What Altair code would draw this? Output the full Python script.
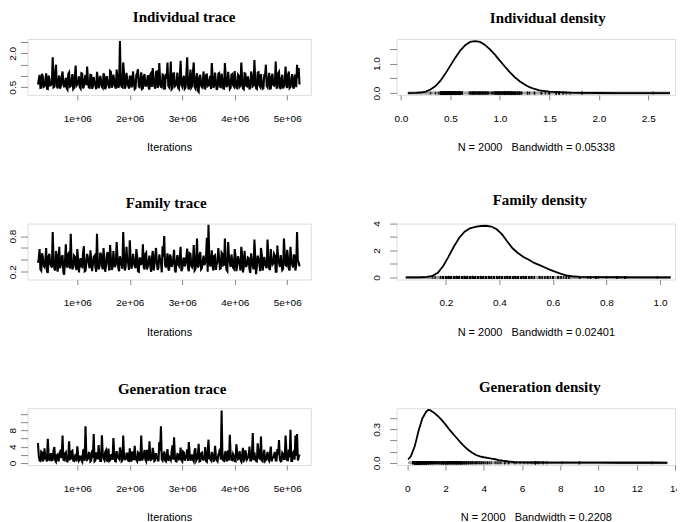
import altair as alt
import pandas as pd
import numpy as np

# ---------------- data ----------------
ITER_START = 250000
ITER_STEP = 15625   # spacing between consecutive kept samples

# samples 0, 2, 4, ...
individual_trace_a = [
    0.62, 1.05, 0.48, 0.95, 0.55, 1.12, 0.42, 0.88, 0.60, 1.83,
    0.52, 1.50, 0.45, 1.02, 0.58, 1.20, 0.50, 0.92, 0.40, 1.15,
    0.56, 1.08, 0.47, 1.46, 0.62, 0.98, 0.44, 1.10, 0.53, 1.05,
    1.42, 0.50, 1.05, 0.43, 0.96, 0.58, 1.18, 0.46, 1.00, 0.52,
    1.12, 0.41, 0.99, 0.60, 1.22, 0.48, 1.06, 0.55, 1.28, 0.47,
    2.55, 0.52, 1.60, 0.44, 1.14, 0.58, 0.97, 0.49, 1.20, 0.42,
    1.03, 1.30, 0.50, 1.16, 0.45, 1.08, 0.57, 1.04, 0.40, 1.12,
    1.35, 0.55, 1.18, 0.47, 1.57, 0.52, 1.06, 0.44, 1.10, 1.60,
    0.50, 1.64, 0.46, 1.12, 0.58, 1.15, 0.42, 1.67, 0.53, 1.01,
    0.48, 1.83, 0.40, 1.28, 0.56, 1.60, 0.45, 1.12, 0.30, 1.05,
    0.51, 1.20, 0.44, 1.06, 0.58, 1.00, 1.57, 0.47, 1.15, 0.38,
    1.10, 0.53, 1.10, 0.45, 1.57, 0.50, 1.18, 0.42, 1.05, 0.59,
    1.22, 0.47, 1.05, 0.52, 1.60, 0.44, 1.12, 0.56, 0.98, 0.40,
    1.20, 0.54, 1.71, 0.46, 1.15, 0.58, 1.08, 0.43, 1.03, 1.50,
    0.50, 1.14, 0.45, 1.10, 0.57, 1.64, 0.48, 1.18, 0.41, 1.05,
    0.55, 1.42, 0.47, 1.20, 0.52, 1.08, 0.44, 1.06, 1.50, 1.35,
]
# samples 1, 3, 5, ...
individual_trace_b = [
    0.85, 0.47, 1.10, 0.52, 0.78, 0.44, 1.02, 0.58, 0.70, 0.49,
    1.15, 0.55, 0.82, 0.43, 0.95, 0.61, 0.74, 0.46, 1.08, 0.53,
    0.80, 0.42, 0.98, 0.57, 0.72, 0.50, 1.12, 0.45, 0.86, 0.59,
    0.76, 0.48, 1.04, 0.54, 0.69, 0.41, 0.92, 0.60, 0.79, 0.47,
    1.01, 0.52, 0.75, 0.45, 1.18, 0.56, 0.83, 0.43, 0.96, 0.58,
    0.71, 0.49, 1.09, 0.55, 0.81, 0.44, 0.97, 0.60, 0.73, 0.46,
    1.14, 0.53, 0.85, 0.42, 0.99, 0.57, 0.77, 0.48, 1.06, 0.51,
    0.84, 0.44, 1.20, 0.59, 0.74, 0.50, 1.03, 0.45, 0.88, 0.56,
    0.79, 0.41, 1.11, 0.54, 0.70, 0.47, 0.95, 0.62, 0.82, 0.43,
    1.07, 0.58, 0.76, 0.49, 1.16, 0.52, 0.86, 0.35, 0.93, 0.57,
    0.72, 0.46, 1.05, 0.55, 0.80, 0.42, 0.98, 0.59, 0.75, 0.48,
    1.13, 0.51, 0.83, 0.44, 0.94, 0.60, 0.78, 0.47, 1.08, 0.53,
    0.73, 0.45, 1.00, 0.57, 0.87, 0.41, 1.10, 0.54, 0.77, 0.49,
    0.96, 0.58, 0.81, 0.43, 1.17, 0.52, 0.74, 0.46, 1.02, 0.56,
    0.85, 0.44, 0.99, 0.60, 0.72, 0.48, 1.12, 0.51, 0.88, 0.45,
    0.79, 0.55, 1.04, 0.47, 0.83, 0.53, 0.97, 0.50, 0.90, 0.62,
]

family_trace_a = [
    0.35, 0.58, 0.22, 0.45, 0.28, 0.60, 0.18, 0.50, 0.30, 0.87,
    0.25, 0.55, 0.20, 0.62, 0.32, 0.48, 0.15, 0.66, 0.27, 0.52,
    0.84, 0.24, 0.47, 0.30, 0.58, 0.19, 0.43, 0.28, 0.63, 0.22,
    0.50, 0.33, 0.56, 0.21, 0.45, 0.29, 0.84, 0.24, 0.52, 0.31,
    0.60, 0.20, 0.48, 0.34, 0.65, 0.23, 0.55, 0.28, 0.70, 0.26,
    0.46, 0.32, 0.87, 0.22, 0.62, 0.35, 0.73, 0.25, 0.50, 0.30,
    0.58, 0.21, 0.44, 0.33, 0.66, 0.24, 0.52, 0.29, 0.47, 0.20,
    0.55, 0.31, 0.60, 0.23, 0.49, 0.36, 0.63, 0.80, 0.27, 0.51,
    0.22, 0.45, 0.32, 0.57, 0.19, 0.48, 0.30, 0.62, 0.25, 0.44,
    0.34, 0.59, 0.21, 0.50, 0.28, 0.65, 0.24, 0.76, 0.30, 0.53,
    0.26, 0.47, 0.35, 0.77, 0.99, 0.29, 0.56, 0.22, 0.48, 0.33,
    0.60, 0.25, 0.52, 0.31, 0.76, 0.23, 0.70, 0.36, 0.49, 0.27,
    0.58, 0.21, 0.46, 0.33, 0.62, 0.19, 0.55, 0.28, 0.44, 0.24,
    0.51, 0.30, 0.74, 0.16, 0.47, 0.34, 0.60, 0.22, 0.45, 0.29,
    0.74, 0.26, 0.58, 0.32, 0.50, 0.20, 0.64, 0.35, 0.48, 0.23,
    0.76, 0.31, 0.57, 0.25, 0.62, 0.33, 0.49, 0.22, 0.87, 0.36,
]
family_trace_b = [
    0.42, 0.24, 0.51, 0.30, 0.38, 0.21, 0.46, 0.33, 0.27, 0.40,
    0.22, 0.48, 0.35, 0.26, 0.44, 0.19, 0.39, 0.31, 0.50, 0.25,
    0.37, 0.28, 0.45, 0.23, 0.41, 0.34, 0.29, 0.52, 0.21, 0.36,
    0.43, 0.26, 0.39, 0.32, 0.47, 0.20, 0.35, 0.28, 0.49, 0.24,
    0.38, 0.30, 0.53, 0.22, 0.42, 0.27, 0.36, 0.33, 0.45, 0.21,
    0.40, 0.25, 0.48, 0.29, 0.37, 0.23, 0.44, 0.31, 0.39, 0.26,
    0.46, 0.20, 0.41, 0.34, 0.28, 0.50, 0.24, 0.38, 0.30, 0.43,
    0.22, 0.47, 0.35, 0.27, 0.40, 0.19, 0.45, 0.32, 0.36, 0.25,
    0.49, 0.28, 0.42, 0.23, 0.37, 0.33, 0.46, 0.21, 0.39, 0.29,
    0.44, 0.26, 0.51, 0.30, 0.35, 0.22, 0.43, 0.27, 0.48, 0.24,
    0.38, 0.31, 0.45, 0.20, 0.41, 0.34, 0.29, 0.47, 0.23, 0.37,
    0.42, 0.26, 0.50, 0.32, 0.36, 0.21, 0.44, 0.28, 0.39, 0.25,
    0.46, 0.30, 0.40, 0.22, 0.48, 0.27, 0.35, 0.33, 0.43, 0.18,
    0.38, 0.24, 0.45, 0.29, 0.41, 0.21, 0.49, 0.31, 0.36, 0.26,
    0.44, 0.23, 0.39, 0.34, 0.47, 0.20, 0.42, 0.28, 0.37, 0.25,
    0.50, 0.30, 0.43, 0.22, 0.40, 0.27, 0.46, 0.32, 0.38, 0.29,
]

generation_trace_a = [
    4.9, 0.6, 2.8, 0.4, 3.6, 1.0, 5.9, 0.5, 2.4, 0.8,
    3.9, 0.3, 2.1, 1.2, 3.3, 6.7, 0.7, 2.6, 0.4, 5.3,
    1.0, 3.0, 0.5, 2.2, 4.1, 0.6, 1.8, 0.3, 3.4, 9.0,
    0.8, 2.5, 0.4, 3.1, 7.1, 0.6, 1.9, 4.4, 0.5, 6.8,
    1.1, 2.7, 0.3, 3.5, 0.7, 2.0, 6.1, 0.5, 2.9, 1.3,
    3.8, 0.4, 6.7, 0.9, 2.3, 0.6, 3.6, 0.3, 1.7, 4.2,
    0.7, 2.6, 0.5, 6.7, 1.2, 3.2, 0.4, 2.0, 5.3, 0.8,
    3.7, 0.5, 2.4, 1.0, 5.1, 9.0, 0.6, 2.8, 0.4, 3.4,
    1.5, 0.7, 4.3, 6.3, 0.5, 2.2, 0.9, 3.8, 0.4, 2.6,
    1.2, 3.3, 5.1, 0.6, 2.1, 0.4, 3.6, 1.0, 4.7, 0.5,
    2.5, 0.8, 3.9, 0.3, 5.7, 1.1, 2.7, 0.5, 4.2, 0.7,
    2.0, 3.5, 12.8, 0.6, 2.4, 0.4, 3.1, 6.9, 0.8, 2.2,
    0.5, 4.6, 1.0, 2.9, 0.4, 3.7, 0.7, 2.3, 1.3, 4.0,
    0.6, 7.3, 2.6, 0.5, 4.8, 1.1, 6.5, 0.4, 3.2, 0.8,
    2.7, 0.5, 4.0, 1.2, 2.1, 0.6, 3.4, 5.6, 0.4, 2.5,
    1.0, 6.7, 0.7, 3.3, 8.1, 0.5, 2.8, 6.7, 7.1, 1.4,
]
generation_trace_b = [
    1.8, 0.5, 2.6, 0.9, 1.4, 0.4, 2.2, 1.1, 0.7, 3.0,
    0.6, 1.9, 0.4, 2.7, 1.2, 0.8, 2.3, 0.5, 1.6, 0.9,
    2.8, 0.6, 1.5, 0.4, 2.1, 1.0, 0.7, 2.9, 0.5, 1.7,
    1.1, 2.4, 0.6, 1.3, 0.4, 2.6, 0.9, 1.8, 0.5, 2.2,
    0.7, 3.1, 1.0, 0.5, 1.9, 0.8, 2.5, 0.4, 1.4, 1.0,
    2.7, 0.6, 1.6, 0.9, 2.3, 0.5, 1.2, 2.8, 0.7, 1.5,
    0.4, 2.4, 1.1, 0.6, 2.0, 0.8, 3.2, 0.5, 1.7, 1.0,
    2.5, 0.7, 1.3, 0.4, 2.9, 0.9, 1.8, 0.6, 2.2, 0.5,
    1.1, 2.6, 0.8, 1.5, 0.4, 2.1, 1.0, 0.7, 2.8, 0.6,
    1.9, 0.5, 2.4, 1.2, 0.8, 3.0, 0.6, 1.6, 0.4, 2.3,
    0.9, 1.4, 0.5, 2.7, 1.1, 0.7, 2.0, 0.6, 1.8, 0.4,
    2.5, 0.8, 1.3, 0.5, 2.9, 1.0, 0.6, 2.2, 0.7, 1.7,
    0.4, 2.6, 1.2, 0.8, 1.9, 0.5, 3.1, 0.9, 1.5, 0.6,
    2.3, 0.7, 1.1, 0.4, 2.8, 1.0, 0.6, 2.0, 0.5, 1.6,
    0.8, 2.4, 0.4, 1.3, 2.7, 0.6, 1.9, 0.9, 0.5, 2.2,
    1.0, 3.0, 0.7, 1.4, 0.5, 2.5, 0.8, 1.8, 0.6, 2.1,
]

ind_dens_x = [0.07, 0.15, 0.20, 0.25, 0.30, 0.35, 0.40, 0.45, 0.50, 0.55, 0.60, 0.65,
              0.70, 0.75, 0.80, 0.85, 0.90, 0.95, 1.00, 1.05, 1.10, 1.15, 1.20, 1.25,
              1.30, 1.35, 1.40, 1.50, 1.60, 1.70, 1.80, 2.00, 2.20, 2.40, 2.60, 2.72]
ind_dens_y = [0.00, 0.01, 0.02, 0.05, 0.12, 0.24, 0.42, 0.66, 0.93, 1.20, 1.44, 1.62,
              1.73, 1.76, 1.73, 1.63, 1.48, 1.30, 1.10, 0.90, 0.71, 0.54, 0.40, 0.29,
              0.20, 0.14, 0.09, 0.05, 0.03, 0.015, 0.008, 0.004, 0.002, 0.001, 0.001, 0.0]

fam_dens_x = [0.05, 0.10, 0.13, 0.15, 0.17, 0.19, 0.21, 0.23, 0.25, 0.27, 0.29, 0.31,
              0.33, 0.35, 0.37, 0.39, 0.41, 0.43, 0.45, 0.47, 0.49, 0.51, 0.53, 0.55,
              0.57, 0.59, 0.61, 0.63, 0.65, 0.67, 0.70, 0.75, 0.80, 0.85, 0.90, 0.95,
              1.00, 1.04]
fam_dens_y = [0.0, 0.01, 0.04, 0.12, 0.35, 0.85, 1.55, 2.30, 2.95, 3.40, 3.65, 3.76,
              3.82, 3.84, 3.78, 3.58, 3.20, 2.65, 2.15, 1.80, 1.52, 1.31, 1.08, 0.92,
              0.74, 0.56, 0.42, 0.27, 0.16, 0.09, 0.05, 0.03, 0.02, 0.015, 0.01, 0.005,
              0.002, 0.0]

gen_dens_x = [0.05, 0.2, 0.4, 0.6, 0.8, 1.0, 1.1, 1.2, 1.4, 1.6, 1.8, 2.0, 2.2, 2.4,
              2.6, 2.8, 3.0, 3.2, 3.4, 3.6, 3.8, 4.0, 4.2, 4.4, 4.6, 4.8, 5.0, 5.3,
              5.6, 6.0, 6.5, 7.0, 7.5, 8.0, 9.0, 10.0, 11.0, 12.0, 13.0, 13.6]
gen_dens_y = [0.03, 0.06, 0.15, 0.29, 0.40, 0.46, 0.474, 0.472, 0.45, 0.42, 0.385,
              0.345, 0.30, 0.26, 0.22, 0.18, 0.145, 0.115, 0.09, 0.07, 0.058, 0.05,
              0.044, 0.038, 0.032, 0.025, 0.019, 0.012, 0.007, 0.004, 0.003, 0.003,
              0.002, 0.001, 0.001, 0.001, 0.0005, 0.0005, 0.0005, 0.0]

iter_ticks = [1000000, 2000000, 3000000, 4000000, 5000000]

# ---------------- helpers ----------------
SANS = "Liberation Sans"
SERIF = "Liberation Serif"


def interleave(a, b):
    out = []
    for u, v in zip(a, b):
        out += [u, v]
    return out


def label_expr(labels):
    expr = "''"
    for v, t in reversed(list(labels.items())):
        expr = f"datum.value == {v} ? '{t}' : ({expr})"
    return expr


def make_title(text, dx, offset):
    return alt.TitleParams(text=text, font=SERIF, fontSize=15, fontWeight="bold",
                           anchor="middle", frame="group", offset=offset,
                           baseline="alphabetic", dx=dx, color="black")


def x_axis(values, labexpr, title):
    return alt.Axis(values=values, labelExpr=labexpr, title=title, tickSize=5,
                    labelPadding=18.5, labelBaseline="middle", titleY=53,
                    titleBaseline="middle", titleFontWeight="normal",
                    titleFont=SANS, titleFontSize=11,
                    labelFlush=False, labelOverlap=False, domain=False, grid=False)


def y_axis(values, labels, pad):
    return alt.Axis(values=values, labelExpr=label_expr(labels), title=None,
                    tickSize=7, labelAngle=270, labelAlign="center",
                    labelBaseline="middle", labelPadding=pad, labelFlush=False,
                    labelOverlap=False, labelBound=False, domain=False, grid=False)


def trace_panel(values, title, ydom, yticks, ylabels, dx, height, toff):
    df = pd.DataFrame({"iter": ITER_START + ITER_STEP * np.arange(len(values)),
                       "value": values})
    return alt.Chart(df).mark_line(color="black", strokeWidth=2.1, clip=True).encode(
        x=alt.X("iter:Q", scale=alt.Scale(domain=[50000, 5450000], nice=False, zero=False),
                axis=x_axis(iter_ticks, "datum.value / 1000000 + 'e+06'", "Iterations")),
        y=alt.Y("value:Q", scale=alt.Scale(domain=ydom, nice=False, zero=False),
                axis=y_axis(yticks, ylabels, 8)),
    ).properties(width=284, height=height, title=make_title(title, dx, toff))


def density_panel(dx_vals, dy_vals, rug_vals, title, xdom, xticks, xfmt, ydom, yticks,
                  ylabels, bw, dx, height, toff):
    curve = pd.DataFrame({"x": dx_vals, "y": dy_vals})
    rug = pd.DataFrame({"x": rug_vals})
    xs = alt.Scale(domain=xdom, nice=False, zero=False)
    ys = alt.Scale(domain=ydom, nice=False, zero=False)
    xlabel = f"N = 2000\u00a0\u00a0\u00a0Bandwidth = {bw}"
    xax = x_axis(xticks, f"format(datum.value, '{xfmt}')", xlabel)
    yax = y_axis(yticks, ylabels, 13)
    base_rule = alt.Chart(curve).mark_rule(color="#a0a0a0", strokeWidth=3).encode(
        x=alt.X("min(x):Q", scale=xs, axis=xax), x2="max(x):Q",
        y=alt.datum(0, scale=ys, axis=yax))
    ticks = alt.Chart(rug).mark_tick(color="black", thickness=1.5, size=3).encode(
        x=alt.X("x:Q", scale=xs, axis=xax), y=alt.datum(0, scale=ys, axis=yax))
    line = alt.Chart(curve).mark_line(color="black", strokeWidth=1.8).encode(
        x=alt.X("x:Q", scale=xs, axis=xax), y=alt.Y("y:Q", scale=ys, axis=yax))
    return alt.layer(base_rule, ticks, line).properties(
        width=279, height=height, title=make_title(title, dx, toff))


ind_all = interleave(individual_trace_a, individual_trace_b)
fam_all = interleave(family_trace_a, family_trace_b)
gen_all = interleave(generation_trace_a, generation_trace_b)

p1 = trace_panel(ind_all, "Individual trace", [0.16, 2.64],
                 [0.5, 1.0, 1.5, 2.0, 2.5], {0.5: "0.5", 2.0: "2.0"}, 15, 56, 2.5)
p2 = density_panel(ind_dens_x, ind_dens_y, ind_all, "Individual density",
                   [-0.043, 2.77], [0, 0.5, 1.0, 1.5, 2.0, 2.5], ".1f",
                   [-0.06, 1.83], [0, 0.5, 1.0, 1.5], {0: "0.0", 1.0: "1.0"},
                   "0.05338", 12, 56, 0)
p3 = trace_panel(fam_all, "Family trace", [0.07, 1.01],
                 [0.2, 0.4, 0.6, 0.8], {0.2: "0.2", 0.8: "0.8"}, -3, 56, 1)
p4 = density_panel(fam_dens_x, fam_dens_y, fam_all, "Family density",
                   [0.016, 1.056], [0.2, 0.4, 0.6, 0.8, 1.0], ".1f",
                   [-0.15, 4.0], [0, 1, 2, 3, 4], {0: "0", 2: "2", 4: "4"},
                   "0.02401", 4, 56, 1)
p5 = trace_panel(gen_all, "Generation trace", [-0.5, 13.4],
                 [0, 2, 4, 6, 8, 10, 12], {0: "0", 4: "4", 8: "8"}, 3, 57, -1)
p6 = density_panel(gen_dens_x, gen_dens_y, gen_all, "Generation density",
                   [-0.55, 14.0], [0, 2, 4, 6, 8, 10, 12, 14], "d",
                   [-0.02, 0.49], [0, 0.1, 0.2, 0.3, 0.4], {0: "0.0", 0.3: "0.3"},
                   "0.2208", 4, 57, -1)

chart = alt.concat(p1, p2, p3, p4, p5, p6, columns=2,
                   spacing={"row": 129, "column": 86}, bounds="flush").properties(
    padding={"left": -1.5, "top": 0.5, "right": -5, "bottom": 0}
).configure_view(stroke="black", strokeWidth=2).configure_axis(
    labelFont=SANS, labelFontSize=11, labelColor="black", tickColor="black",
    tickWidth=1.2, titleFont=SANS, titleFontSize=11, titleFontWeight="normal",
    titleColor="black"
).configure(background="white")

chart.save("out.html", embed_options={"renderer": "svg", "actions": False})
